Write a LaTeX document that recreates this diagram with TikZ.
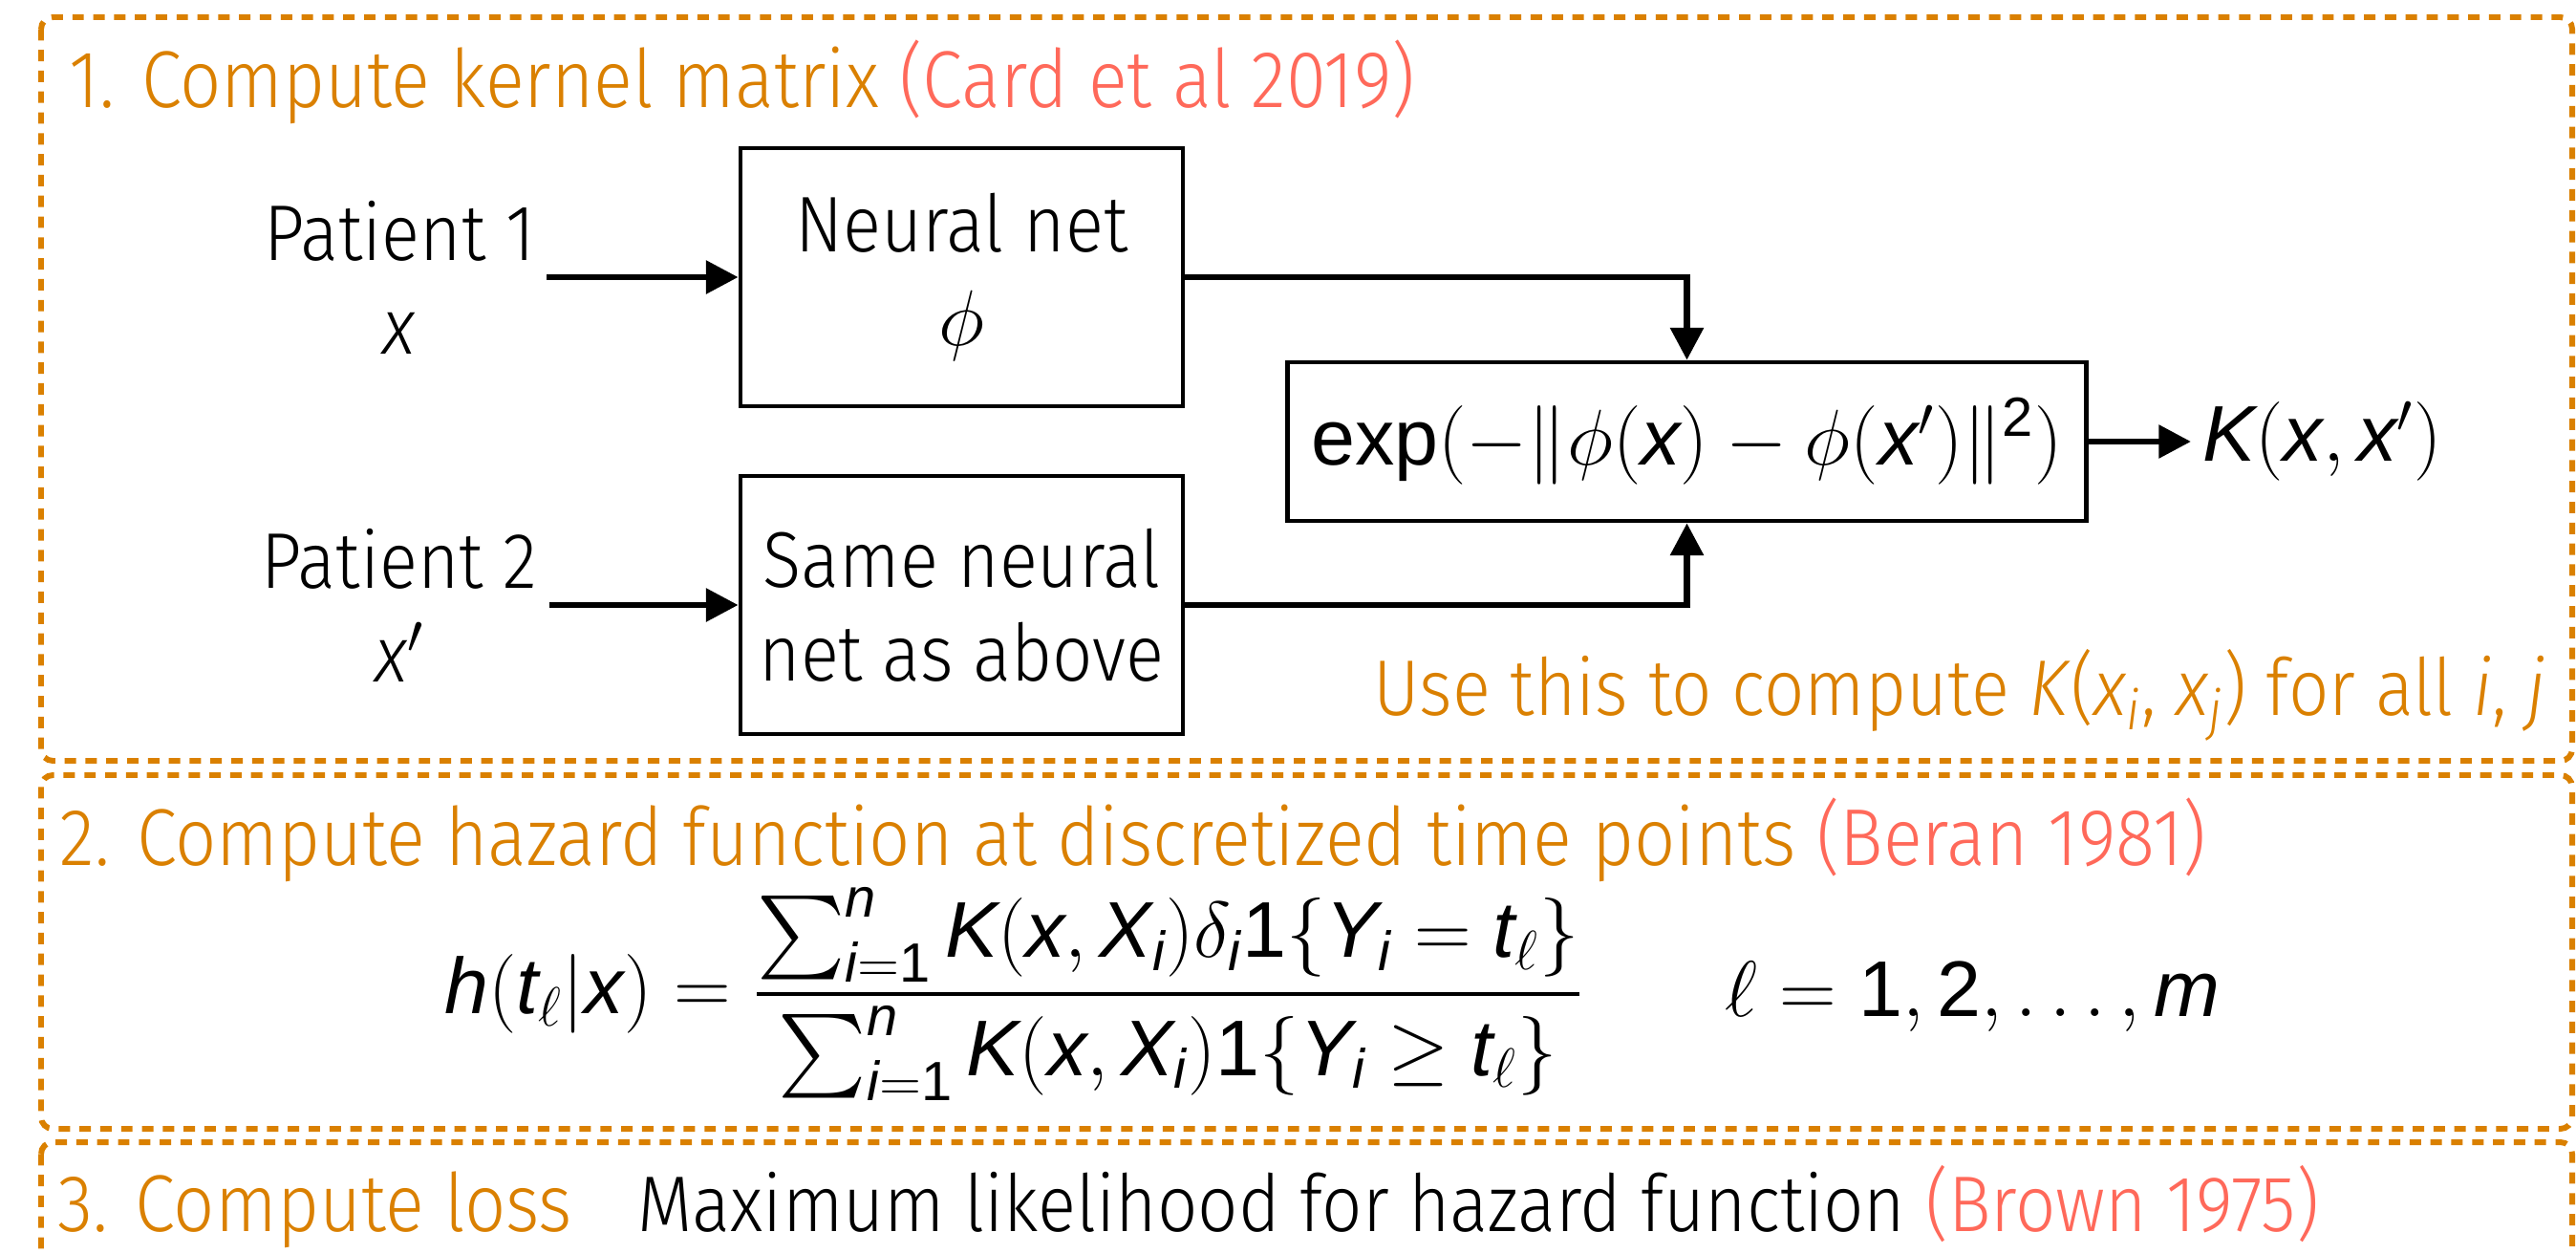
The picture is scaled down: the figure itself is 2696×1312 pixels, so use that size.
\documentclass[tikz,border=0pt]{standalone}
\usepackage{fix-cm}
\usepackage{amsmath}
\usepackage{mathspec}
\setmainfont{Fira Sans}[UprightFont={* Light}, ItalicFont={* Light Italic}, FakeStretch=0.9]
\setmathsfont(Digits,Latin){Liberation Sans}
\setmathrm{Liberation Sans}
\usetikzlibrary{arrows.meta, positioning}
\definecolor{stepor}{RGB}{218,128,0}
\definecolor{citered}{RGB}{255,105,90}

\begin{document}
\begin{tikzpicture}[
      x=0.01cm, y=-0.01cm,
      font=\fontsize{23.5}{27.9}\selectfont,
      frame/.style={draw=stepor, line width=1.7pt, dash pattern=on 3.4pt off 2.8pt, rounded corners=3.5pt},
      box/.style={draw, line width=1.3pt, align=center, minimum width=4.63cm, minimum height=2.7cm, inner sep=0pt},
      lab/.style={align=center},
      ttl/.style={anchor=base west, text=stepor, inner sep=0pt, font=\fontsize{24}{29}\selectfont},
      ar/.style={-{Triangle[length=9.6pt, width=9.6pt]}, line width=1.9pt}
    ]
    \useasboundingbox (0,0) rectangle (2696,1312);
    \clip (0,0) rectangle (2696,1312);
    % the three steps
    \draw[frame] (43,18) rectangle (2692,796);
    \draw[frame] (43,811) rectangle (2692,1181);
    \draw[frame] (43,1195) rectangle (2692,1430);
    \node[ttl] (t1) at (72,112) {1. Compute kernel matrix \textcolor{citered}{(Card et al 2019)}};
    \node[ttl] (t2) at (62,905) {2. Compute hazard function at discretized time points \textcolor{citered}{(Beran 1981)}};
    \node[ttl] (t3) at (60,1288) {3. Compute loss};
    \node[anchor=base west, inner sep=0pt] (ml) at (667,1288) {Maximum likelihood for hazard function \textcolor{citered}{(Brown 1975)}};
    % step 1
    \node[lab] (p1) at (418,290) {Patient 1\\\textit{x}};
    \node[lab] (p2) at (418,633) {Patient 2\\\textit{x}$'$};
    \node[box] (nn) at (1006.5,290) {Neural net\\$\phi$};
    \node[box] (same) at (1006.5,633) {Same neural\\net as above};
    \node[box, minimum width=8.35cm, minimum height=1.66cm] (ker) at (1765.5,462) {$\exp(-\|\phi(x)-\phi(x')\|^2)$};
    \node[anchor=west] (kxx) at (2293,462) {$K(x,x')$};
    \node[anchor=base east, text=stepor, inner sep=0pt] (use) at (2665,748) {Use this to compute \textit{K}(\textit{x\textsubscript{i}}, \textit{x\textsubscript{j}}) for all \textit{i}, \textit{j}};
    \draw[ar] (p1) -- (nn);
    \draw[ar] (p2) -- (same);
    \draw[ar] (nn.east) -| (ker.north);
    \draw[ar] (same.east) -| (ker.south);
    \draw[ar] (ker) -- (kxx);
    % step 2
    \node (hz) at (1061,1040) {$\displaystyle h(t_\ell|x) = \frac{\sum_{i=1}^n K(x,X_i)\delta_i 1\{Y_i = t_\ell\}}{\sum_{i=1}^n K(x,X_i)1\{Y_i \geq t_\ell\}}$};
    \node[anchor=base west, inner sep=0pt] (ells) at (1805,1063) {$\ell = 1, 2, \ldots, m$};
  \end{tikzpicture}
\end{document}
